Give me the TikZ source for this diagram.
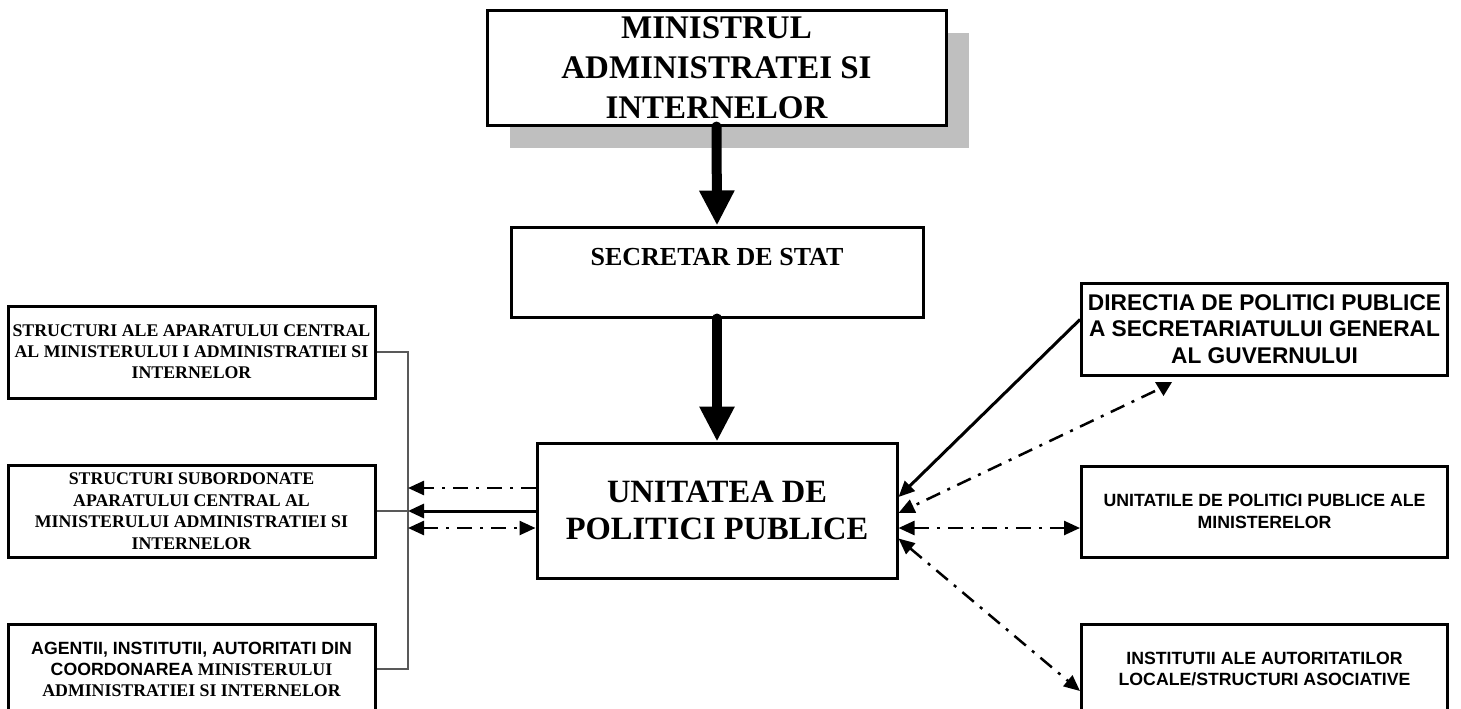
\documentclass[tikz,border=0pt]{standalone}
\usepackage{fontspec}
\setmainfont{Liberation Serif}
\newfontfamily\sansb{Liberation Sans}
\usetikzlibrary{arrows.meta,calc}
\tikzset{
  box/.style={draw, line width=3pt, fill=white, inner sep=0pt, align=center},
  serifbig/.style={font=\fontsize{33}{40}\selectfont\bfseries},
  serifmid/.style={font=\fontsize{32.5}{37}\selectfont\bfseries},
  seriftiny/.style={font=\fontsize{26}{30}\selectfont\bfseries},
  serifsm/.style={font=\fontsize{17.8}{21}\selectfont\bfseries},
  sansmid/.style={font=\sansb\fontsize{22.7}{26.5}\selectfont\bfseries},
  sanssm/.style={font=\sansb\fontsize{17.7}{21.5}\selectfont\bfseries},
  tipa/.tip={Triangle[length=16pt,width=14pt]},
  bigtip/.tip={Triangle[length=35pt,width=33pt]},
  bigarrow/.style={line width=10pt, line cap=round, -{bigtip}},
  solidarrow/.style={line width=3pt, -{tipa}},
  dd/.style={line width=2.5pt, dash pattern=on 15pt off 8pt on 3pt off 8pt},
  bracketline/.style={line width=1.5pt, draw=black!65},
  shadowbox/.style={fill=black!25, draw=none}
}
\begin{document}
\begin{tikzpicture}[x=1pt,y=-1pt]
\useasboundingbox (0,0) rectangle (1461,709);
% top box with shadow
\fill[shadowbox] (510,33) rectangle (969,148);
\node[box, serifbig, minimum width=459pt, minimum height=114pt] (top) at (716.5,68)
  {MINISTRUL\\ADMINISTRATEI SI\\INTERNELOR};
\node[box, seriftiny, minimum width=412pt, minimum height=90pt, text depth=30pt] (sec) at (717,272)
  {SECRETAR DE STAT};
\node[box, serifmid, minimum width=360pt, minimum height=135pt] (uni) at (717,510.5)
  {UNITATEA DE\\POLITICI PUBLICE};
% left boxes
\node[box, serifsm, minimum width=367pt, minimum height=92pt] (L1) at (191.5,352)
  {STRUCTURI ALE APARATULUI CENTRAL\\AL MINISTERULUI I ADMINISTRATIEI SI\\INTERNELOR};
\node[box, font=\fontsize{17.8}{21.5}\selectfont\bfseries, minimum width=367pt, minimum height=92pt] (L2) at (191.5,511)
  {STRUCTURI SUBORDONATE\\APARATULUI CENTRAL AL\\MINISTERULUI ADMINISTRATIEI SI\\INTERNELOR};
\node[box, serifsm, minimum width=367pt, minimum height=90pt] (L3) at (191.5,669)
  {{\sansb\fontsize{17.7}{21}\selectfont AGENTII, INSTITUTII, AUTORITATI DIN}\\{\sansb\fontsize{17.7}{21}\selectfont COORDONAREA} MINISTERULUI\\ADMINISTRATIEI SI INTERNELOR};
% right boxes
\node[box, sansmid, minimum width=366pt, minimum height=92pt] (R1) at (1264.5,329)
  {DIRECTIA DE POLITICI PUBLICE\\A SECRETARIATULUI GENERAL\\AL GUVERNULUI};
\node[box, sanssm, minimum width=366pt, minimum height=91pt] (R2) at (1264.5,511.5)
  {UNITATILE DE POLITICI PUBLICE ALE\\MINISTERELOR};
\node[box, sanssm, minimum width=366pt, minimum height=90pt] (R3) at (1264.5,669)
  {INSTITUTII ALE AUTORITATILOR\\LOCALE/STRUCTURI ASOCIATIVE};
% vertical thick arrows
\draw[bigarrow] (top.south) -- (sec.north);
\draw[bigarrow] (sec.south) -- (uni.north);
% bracket on the left
\coordinate (bx) at (408,0);
\draw[bracketline] (L1.east) -| (bx |- L3.east) -- (L3.east);
\draw[bracketline] (L2.east) -- (bx |- L2.east);
% left arrows
\coordinate (la1) at (408,488);
\coordinate (la2) at (408,511);
\coordinate (la3) at (408,528);
\draw[dd, -{tipa}] (uni.west |- la1) -- (la1);
\draw[solidarrow] (uni.west |- la2) -- (la2);
\draw[dd, {tipa}-{tipa}] (la3) -- (uni.west |- la3);
% right arrows
\coordinate (ra1) at ($(R1.north west)!0.4!(R1.south west)$);
\coordinate (ua1) at ($(uni.east)+(0,-13.5)$);
\draw[solidarrow] (ra1) -- (ua1);
\coordinate (dtip) at (1155,391);
\coordinate (ua2) at ($(uni.east)+(0,2.5)$);
\draw[dd, -{tipa}] (dtip) -- (ua2);
\fill (1155,382) -- (1172,382) -- (1163.5,396) -- cycle;
\coordinate (ua3) at ($(uni.east)+(0,17.5)$);
\draw[dd, {tipa}-{tipa}] (ua3) -- (R2.west |- ua3);
\coordinate (ua4) at ($(uni.east)+(0,28)$);
\coordinate (ra4) at ($(R3.west)+(0,22)$);
\draw[dd, {tipa}-{tipa}] (ua4) -- (ra4);
\end{tikzpicture}
\end{document}
